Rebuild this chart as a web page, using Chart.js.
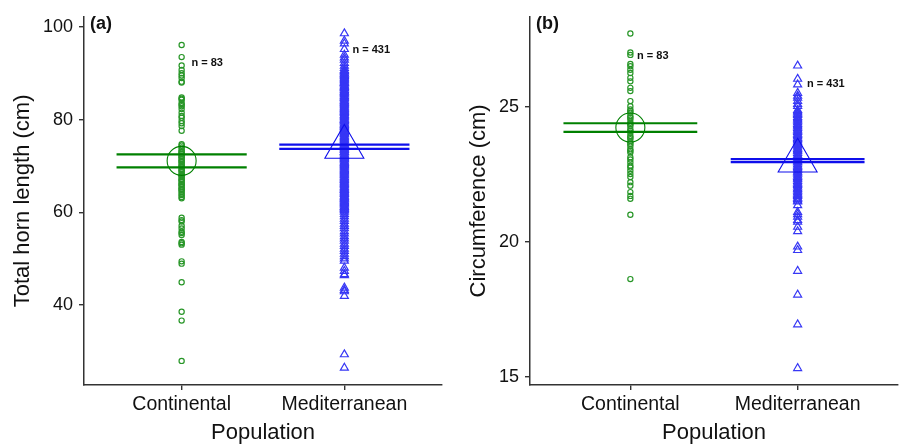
<!DOCTYPE html>
<html>
<head>
<meta charset="utf-8">
<title>Horn length and circumference by population</title>
<script src="https://cdn.jsdelivr.net/npm/chart.js@4.4.0/dist/chart.umd.min.js"></script>
<style>
  html, body { margin: 0; padding: 0; background: #fff; }
  #wrap { position: relative; width: 900px; height: 445px; }
  .panel { position: absolute; top: 0; width: 450px; height: 445px; }
</style>
</head>
<body>
<div id="wrap">
  <div class="panel" style="left:0"><canvas id="chart_a" width="450" height="445"></canvas></div>
  <div class="panel" style="left:450px"><canvas id="chart_b" width="450" height="445"></canvas></div>
</div>
<script>
// categories and sample sizes
const categories = ['Continental', 'Mediterranean'];
const groupCounts = [83, 431];

// (a) total horn length, cm
const contLength = [
    96.1, 93.5, 91.7, 90.7, 90.0, 89.5, 89.0, 88.2, 88.0,
    84.8, 84.5, 84.3, 83.6, 83.2, 82.9, 82.3, 81.5, 80.8, 80.4, 79.7, 79.2, 78.6, 77.6,
    74.7, 74.4, 74.0, 73.6, 73.2, 73.0, 72.9, 72.6, 72.2, 72.0, 71.9, 71.5, 71.2, 71.0,
    70.8, 70.5, 70.1, 70.0, 69.8, 69.4, 69.1, 69.0, 68.7, 68.3, 68.0, 67.9, 67.6, 67.2,
    67.0, 66.8, 66.5, 66.1, 66.0, 65.8, 65.4, 65.1, 65.0, 64.7, 64.4, 64.0, 63.7, 63.3, 63.0,
    58.8, 58.3, 58.0, 57.1, 56.5, 55.8, 55.5, 55.1, 53.6, 53.3, 53.0, 49.4, 48.9, 44.9,
    38.5, 36.6, 27.9
];
const medLength = [
    98.6, 97.0, 96.4, 95.2, 94.0, 93.4, 92.9, 92.2, 91.6, 91.1, 90.7,
    90.5, 90.3, 90.0, 89.9, 89.6, 89.4, 89.1, 88.9, 88.7, 88.5, 88.2, 88.0, 87.9, 87.7,
    87.4, 87.2, 87.0, 86.8, 86.7, 86.4, 86.1, 86.0, 85.8, 85.6, 85.4, 85.1, 84.9, 84.7,
    84.6, 84.3, 84.0, 83.9, 83.7, 83.5, 83.3, 83.1, 82.8, 82.6, 82.4, 82.2, 82.0, 81.8,
    81.6, 81.4, 81.1, 80.9, 80.7, 80.5, 80.2, 80.0, 79.9, 79.7, 79.5, 79.2, 79.0, 78.8,
    78.6, 78.4, 78.3, 78.0, 77.8, 77.5, 77.3, 77.1, 77.0, 76.8, 76.5, 76.3, 76.1, 75.9,
    75.7, 75.5, 75.2, 75.0, 74.8, 74.6, 74.5, 74.2, 74.0, 73.8, 73.6, 73.4, 73.1, 73.0,
    72.8, 72.5, 72.3, 72.1, 71.9, 71.7, 71.5, 71.3, 71.0, 70.8, 70.6, 70.4, 70.2, 70.0,
    69.8, 69.6, 69.3, 69.1, 68.9, 68.7, 68.5, 68.3, 68.1, 67.9, 67.6, 67.4, 67.2, 67.0,
    66.9, 66.6, 66.4, 66.2, 66.0, 65.8, 65.5, 65.3, 65.1, 64.9, 64.8, 64.5, 64.3, 64.1,
    63.9, 63.6, 63.4, 63.2, 63.0, 62.9, 62.7, 62.4, 62.2, 62.0, 61.8, 61.6, 61.3, 61.1,
    61.0, 60.8, 60.6, 60.4, 60.1, 59.6, 59.1, 58.6, 58.1, 57.5, 57.0, 56.5, 55.9, 55.4,
    54.8, 54.3, 53.8, 53.2, 52.7, 52.1, 51.6, 51.0, 50.5, 50.0, 49.5, 48.0, 47.3, 46.6,
    46.4, 43.7, 43.2, 42.9, 41.9, 29.3, 26.4
];
const lengthMean = [71.1, 74.1];
const lengthLow = [69.7, 73.7];
const lengthHigh = [72.5, 74.6];
const lengthTicks = [40, 60, 80, 100];

// (b) circumference, cm
const contCirc = [
    27.71, 27.01, 26.92, 26.58, 26.50, 26.37, 26.25, 26.07, 25.94, 25.70, 25.58, 25.21, 25.02,
    24.90, 24.84, 24.78, 24.66, 24.60, 24.53, 24.41, 24.35, 24.29, 24.17, 24.10, 24.04,
    23.92, 23.86, 23.80, 23.68, 23.62, 23.55, 23.43, 23.37, 23.31, 23.13, 23.05, 22.94,
    22.82, 22.75, 22.63, 22.51, 22.40, 22.21, 22.08, 21.84, 21.70, 21.59, 21.00, 18.62
];
const medCirc = [
    26.52, 26.03, 25.82, 25.51, 25.40, 25.33, 25.21, 25.10, 25.02,
    24.88, 24.83, 24.78, 24.73, 24.69, 24.62, 24.57, 24.52, 24.48, 24.42, 24.36, 24.31,
    24.27, 24.21, 24.15, 24.11, 24.06, 24.00, 23.95, 23.90, 23.84, 23.80, 23.76, 23.70,
    23.64, 23.59, 23.55, 23.49, 23.43, 23.39, 23.35, 23.28, 23.22, 23.18, 23.13, 23.08,
    23.02, 22.97, 22.93, 22.87, 22.81, 22.77, 22.72, 22.66, 22.60, 22.56, 22.52, 22.45,
    22.40, 22.35, 22.31, 22.25, 22.19, 22.14, 22.10, 22.04, 21.98, 21.94, 21.89, 21.83,
    21.78, 21.73, 21.69, 21.63, 21.58, 21.53, 21.49,
    21.35, 21.10, 21.02, 20.92, 20.80, 20.74, 20.55, 20.39, 19.82, 19.69, 18.92, 18.04,
    16.94, 15.32
];
const circMean = [24.23, 23.0];
const circLow = [24.07, 22.95];
const circHigh = [24.39, 23.06];
const circTicks = [15, 20, 25];

const FONT = "'Liberation Sans', Arial, sans-serif";
const GREEN_PT = 'rgb(40,150,40)';
const GREEN_LN = 'rgb(0,128,0)';
const BLUE_PT = 'rgb(55,55,245)';
const BLUE_LN = 'rgb(15,15,235)';

// draws the panel letter and the "n = " labels
const panelText = {
    id: 'panelText',
    afterDatasetsDraw(chart, args, opts) {
        const ctx = chart.ctx;
        const xs = chart.scales.x, ys = chart.scales.y;
        ctx.save();
        ctx.fillStyle = '#111';
        ctx.textBaseline = 'middle';
        ctx.textAlign = 'left';
        ctx.font = 'bold 18px ' + FONT;
        ctx.fillText(opts.letter, chart.chartArea.left + opts.letterDx, 24);
        ctx.font = 'bold 11px ' + FONT;
        opts.counts.forEach(c => {
            ctx.fillText('n = ' + c.n, xs.getPixelForValue(c.x), ys.getPixelForValue(c.y));
        });
        ctx.restore();
    }
};

function pts(values, x) {
    return values.map(v => ({ x: x, y: v }));
}

function segment(x, y) {
    return [{ x: x - 0.4, y: y }, { x: x + 0.4, y: y }];
}

function makePanel(id, cfg) {
    const datasets = [
        { data: pts(cfg.cont, 1), pointStyle: 'circle', radius: 2.6, borderColor: GREEN_PT, borderWidth: 1.2, order: 3 },
        { data: pts(cfg.med, 2), pointStyle: 'triangle', radius: 4.6, borderColor: BLUE_PT, borderWidth: 1.2, order: 3 }
    ];
    [0, 1].forEach(i => {
        const col = i === 0 ? GREEN_LN : BLUE_LN;
        [cfg.low[i], cfg.high[i]].forEach(v => {
            datasets.push({ data: segment(i + 1, v), showLine: true, radius: 0, borderColor: col, borderWidth: 2.2, order: 2 });
        });
        datasets.push({
            data: [{ x: i + 1, y: cfg.mean[i] }],
            pointStyle: i === 0 ? 'circle' : 'triangle',
            radius: i === 0 ? 14.5 : 22.5,
            borderColor: col,
            borderWidth: 1.1,
            order: 1
        });
    });
    datasets.forEach(d => {
        d.backgroundColor = 'rgba(0,0,0,0)';
        d.hoverRadius = d.radius;
    });

    return new Chart(document.getElementById(id), {
        type: 'scatter',
        data: { datasets },
        options: {
            responsive: false,
            animation: false,
            events: [],
            layout: { autoPadding: false, padding: { top: 13, right: cfg.padRight, left: 0, bottom: 0 } },
            plugins: {
                legend: { display: false },
                tooltip: { enabled: false },
                panelText: { letter: cfg.letter, letterDx: 6, counts: cfg.counts }
            },
            scales: {
                x: {
                    type: 'linear',
                    min: 0.4,
                    max: 2.6,
                    afterBuildTicks: s => { s.ticks = [1, 2].map(v => ({ value: v })); },
                    afterFit: s => { s.height = 60; },
                    ticks: {
                        callback: v => categories[v - 1],
                        color: '#111',
                        font: { family: FONT, size: 19.5 },
                        padding: 3,
                        maxRotation: 0
                    },
                    grid: { drawOnChartArea: false, drawTicks: true, tickLength: 5, color: '#333', lineWidth: 1.4 },
                    border: { display: true, color: '#333', width: 1.5 },
                    title: { display: true, text: 'Population', color: '#111', font: { family: FONT, size: 22, lineHeight: 1 }, padding: { top: 0, bottom: 1 } }
                },
                y: {
                    min: cfg.ymin,
                    max: cfg.ymax,
                    afterBuildTicks: s => { s.ticks = cfg.ticks.map(v => ({ value: v })); },
                    afterFit: s => { s.width = cfg.axisWidth; },
                    ticks: {
                        color: '#111',
                        font: { family: FONT, size: 18 },
                        padding: 6
                    },
                    grid: { drawOnChartArea: false, drawTicks: true, tickLength: 5, color: '#333', lineWidth: 1.4 },
                    border: { display: true, color: '#333', width: 1.5 },
                    title: { display: true, text: cfg.yTitle, color: '#111', font: { family: FONT, size: 22, lineHeight: 1 }, padding: { top: cfg.titlePad, bottom: 0 } }
                }
            }
        },
        plugins: [panelText]
    });
}

makePanel('chart_a', {
    cont: contLength, med: medLength,
    mean: lengthMean, low: lengthLow, high: lengthHigh,
    ticks: lengthTicks, ymin: 22.7, ymax: 102.2,
    yTitle: 'Total horn length (cm)', letter: '(a)',
    axisWidth: 84, padRight: 8, titlePad: 12,
    counts: [{ n: groupCounts[0], x: 1.06, y: 92.2 }, { n: groupCounts[1], x: 2.05, y: 95.1 }]
});

makePanel('chart_b', {
    cont: contCirc, med: medCirc,
    mean: circMean, low: circLow, high: circHigh,
    ticks: circTicks, ymin: 14.7, ymax: 28.33,
    yTitle: 'Circumference (cm)', letter: '(b)',
    axisWidth: 80, padRight: 2, titlePad: 18,
    counts: [{ n: groupCounts[0], x: 1.04, y: 26.87 }, { n: groupCounts[1], x: 2.056, y: 25.85 }]
});
</script>
</body>
</html>
